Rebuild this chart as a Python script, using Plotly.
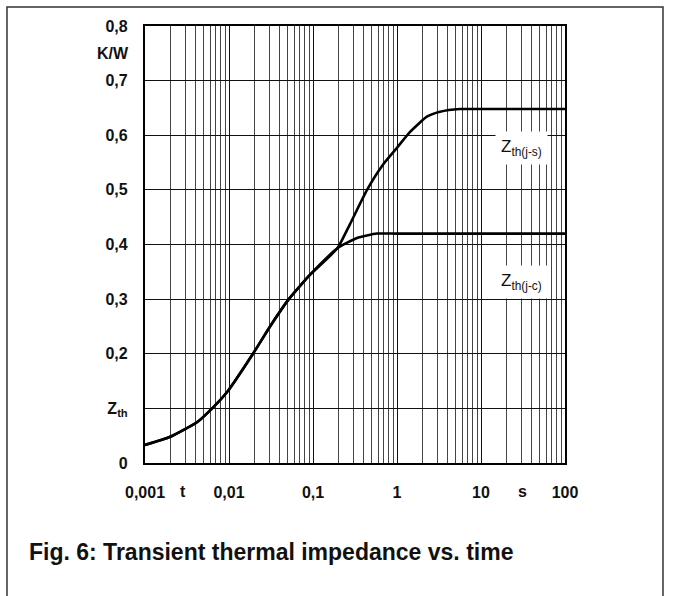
import math
import plotly.graph_objects as go

# ---- data ----
t_jc = [0.001, 0.002, 0.0042, 0.0063, 0.0095, 0.0193, 0.0308, 0.0515, 0.07, 0.09, 0.195, 0.334, 0.578, 1.0, 10.0, 100.0]
z_jc = [0.033, 0.048, 0.075, 0.100, 0.130, 0.200, 0.250, 0.300, 0.324, 0.343, 0.393, 0.412, 0.420, 0.420, 0.420, 0.420]

t_js = [0.001, 0.002, 0.0042, 0.0063, 0.0095, 0.0193, 0.0308, 0.0515, 0.07, 0.09, 0.195, 0.275, 0.44, 0.68, 1.0, 1.43, 2.27, 3.25, 5.6, 10.0, 100.0]
z_js = [0.033, 0.048, 0.075, 0.100, 0.130, 0.200, 0.250, 0.300, 0.324, 0.343, 0.393, 0.437, 0.500, 0.546, 0.577, 0.606, 0.634, 0.643, 0.648, 0.648, 0.648]

x_tick_vals = [0.001, 0.01, 0.1, 1, 10, 100]
x_tick_text = ["0,001", "0,01", "0,1", "1", "10", "100"]
y_tick_vals = [0, 0.1, 0.2, 0.3, 0.4, 0.5, 0.6, 0.7, 0.8]
y_tick_text = ["0", "Z<sub>th</sub>", "0,2", "0,3", "0,4", "0,5", "0,6", "0,7", "0,8"]
x_unit_labels = [("t", 0.0028), ("s", 31.6)]
y_unit_label = ("K/W", 0.75)
curve_labels = [("Z<sub>th(j-s)</sub>", 0.577), ("Z<sub>th(j-c)</sub>", 0.331)]
label_t = 30.0
caption = "Fig. 6: Transient thermal impedance vs. time"

FONT = "Liberation Sans, Arial, Helvetica, sans-serif"
W, H = 673, 596
L, R, T, B = 145, 108, 26, 133
pw, ph = W - L - R, H - T - B

def px_x(px):
    return (px - L) / pw

def px_y(py):
    return (H - B - py) / ph

tick_font = dict(family=FONT, size=16, color="#111", weight="bold")

fig = go.Figure()
fig.add_trace(go.Scatter(x=t_jc, y=z_jc, mode="lines", line=dict(color="black", width=2.6, shape="spline", smoothing=0.5), showlegend=False))
fig.add_trace(go.Scatter(x=t_js, y=z_js, mode="lines", line=dict(color="black", width=2.6, shape="spline", smoothing=0.5), showlegend=False))

annotations = []
for txt, tv in x_unit_labels:
    annotations.append(dict(text=txt, x=math.log10(tv), xref="x", y=px_y(492), yref="paper",
                            showarrow=False, xanchor="center", yanchor="middle", font=tick_font))
annotations.append(dict(text=y_unit_label[0], x=px_x(131), xref="paper", y=y_unit_label[1], yref="y",
                        showarrow=False, xanchor="right", yanchor="middle", font=tick_font))
for txt, yv in curve_labels:
    annotations.append(dict(text=txt, x=math.log10(label_t), xref="x", y=yv, yref="y",
                            showarrow=False, xanchor="center", yanchor="middle",
                            bgcolor="white", borderpad=5,
                            font=dict(family=FONT, size=17, color="#111")))
annotations.append(dict(text=caption, x=px_x(27), xref="paper", y=px_y(552), yref="paper",
                        showarrow=False, xanchor="left", yanchor="middle",
                        font=dict(family=FONT, size=23, color="#111", weight="bold")))

fig.update_layout(
    width=W, height=H,
    margin=dict(l=L, r=R, t=T, b=B, pad=0),
    paper_bgcolor="white", plot_bgcolor="white",
    annotations=annotations,
    shapes=[dict(type="rect", xref="paper", yref="paper",
                 x0=px_x(7), x1=px_x(663), y0=px_y(640), y1=px_y(7),
                 line=dict(color="#333", width=1.5), layer="below")],
    xaxis=dict(type="log", range=[-3, 2], tickvals=x_tick_vals, ticktext=x_tick_text,
               showgrid=True, gridcolor="#111", gridwidth=1.4,
               minor=dict(dtick="D1", showgrid=True, gridcolor="#444", gridwidth=0.9, ticks=""),
               showline=True, mirror=True, linecolor="black", linewidth=2.2,
               ticks="", ticklabelstandoff=14, zeroline=False, tickfont=tick_font),
    yaxis=dict(range=[0, 0.8], tickvals=y_tick_vals, ticktext=y_tick_text,
               showgrid=True, gridcolor="#111", gridwidth=1.4,
               showline=True, mirror=True, linecolor="black", linewidth=2.2,
               ticks="", ticklabelstandoff=12, zeroline=False, tickfont=tick_font),
)

fig.write_html("out.html")
